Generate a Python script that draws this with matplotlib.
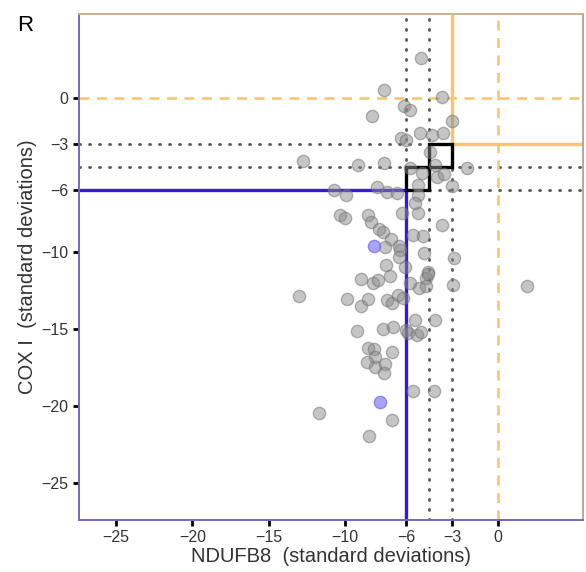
import numpy as np
import matplotlib
matplotlib.use("Agg")
import matplotlib.pyplot as plt
from matplotlib.patches import Rectangle

plt.rcParams['font.family'] = ['Liberation Sans', 'DejaVu Sans']

# z-scores (NDUFB8, COX I)
ndufb8 = [-7.44, -3.69, -6.15, -5.76, -8.22, -2.99, -5.10, -4.34, -3.58, -6.35,
          -6.04, -4.45, -12.78, -9.14, -7.44, -5.76, -4.12, -4.01, -3.51, -2.05,
          -4.99, -5.21, -2.99, -10.71, -9.97, -7.89, -7.28, -6.63, -5.26, -10.34,
          -10.01, -8.49, -6.26, -5.21, -5.43, -3.64, -8.33, -7.79, -7.50, -6.98,
          -7.40, -6.48, -6.41, -6.46, -5.54, -4.89, -4.82, -2.86, -7.33, -6.09,
          -4.56, -4.73, -7.07, -8.97, -8.20, -7.83, -5.76, -5.15, -4.73, -2.92,
          1.88, -13.02, -9.90, -8.99, -8.49, -7.24, -6.96, -6.52, -6.20, -5.43,
          -4.12, -9.25, -7.50, -6.85, -6.02, -5.87, -5.32, -5.04, -8.53, -8.09,
          -6.96, -8.05, -8.59, -8.05, -7.40, -7.44, -5.54, -4.19, -11.69, -6.96,
          -8.42, -5.05, -4.60]
cox1 = [0.52, 0.08, -0.52, -0.78, -1.15, -1.47, -2.25, -2.40, -2.29, -2.62,
        -2.73, -3.49, -4.07, -4.35, -4.20, -4.57, -4.35, -5.11, -4.94, -4.57,
        -4.89, -5.65, -5.71, -5.97, -6.30, -5.76, -6.08, -6.19, -6.30, -7.60,
        -7.81, -7.60, -7.49, -7.45, -6.84, -8.25, -8.03, -8.53, -8.72, -9.17,
        -9.70, -9.59, -9.87, -10.30, -8.90, -8.96, -10.04, -10.37, -10.84, -10.95,
        -11.27, -11.66, -11.56, -11.77, -11.99, -11.82, -12.03, -12.36, -12.21, -12.14,
        -12.21, -12.84, -13.05, -13.51, -13.07, -13.12, -13.29, -12.79, -13.01, -14.42,
        -14.42, -15.13, -15.00, -14.85, -15.06, -15.28, -15.39, -15.17, -16.25, -16.32,
        -16.47, -16.79, -17.12, -17.44, -17.29, -17.87, -19.03, -19.03, -20.47, -20.91,
        -21.95, 2.60, -11.45]

# two highlighted fibres
hl_ndufb8 = [-8.09, -7.72]
hl_cox1 = [-9.59, -19.72]

# thresholds
thr_lines = [-6, -4.5, -3]
xticks = [-25, -20, -15, -10, -6, -3, 0]
yticks = [0, -3, -6, -10, -15, -20, -25]

blue = "#3716dd"
orange = "#f7c46f"
dotc = "#555555"

fig = plt.figure(figsize=(5.86, 5.72), dpi=100)
ax = fig.add_axes([0.1348, 0.0909, 0.8602, 0.8846])
ax.set_xlim(-27.42, 5.56)
ax.set_ylim(-27.4, 5.45)

# dotted threshold grid
for t in thr_lines:
    ax.axvline(t, color=dotc, lw=2.0, ls=(0, (0.4, 3.2)), dash_capstyle="round", zorder=1)
    ax.axhline(t, color=dotc, lw=2.0, ls=(0, (0.4, 3.2)), dash_capstyle="round", zorder=1)

# zero lines
ax.axvline(0, color=orange, lw=1.8, ls=(0, (4, 3)), zorder=1.5)
ax.axhline(0, color=orange, lw=1.8, ls=(0, (4, 3)), zorder=1.5)

# normal / deficient regions
ax.add_patch(Rectangle((-3, -3), 20, 20, fill=False, ec=orange, lw=2.4, zorder=2))
ax.add_patch(Rectangle((-40, -40), 34, 34, fill=False, ec=blue, lw=2.4, zorder=2))

# intermediate boxes
ax.add_patch(Rectangle((-6, -6), 1.5, 1.5, fill=False, ec="black", lw=2.4, zorder=3))
ax.add_patch(Rectangle((-4.5, -4.5), 1.5, 1.5, fill=False, ec="black", lw=2.4, zorder=3))

ax.scatter(ndufb8, cox1, s=78, c="#8c8c8c", alpha=0.5, edgecolors="#707070",
           linewidths=1.0, zorder=4)
ax.scatter(hl_ndufb8, hl_cox1, s=78, c="#8c84f0", alpha=0.75, edgecolors="#7a72e0",
           linewidths=1.0, zorder=4)

ax.set_xticks(xticks)
ax.set_yticks(yticks)
ax.tick_params(direction="out", length=4, width=2, color="black",
               labelsize=11.5, labelcolor="#333333")
ax.set_xlabel("NDUFB8  (standard deviations)", fontsize=14.5, color="#333333", labelpad=1)
ax.set_ylabel("COX I  (standard deviations)", fontsize=14.5, color="#333333", labelpad=3)

ax.spines["left"].set_color("#7468c4")
ax.spines["bottom"].set_color("#7468c4")
ax.spines["top"].set_color("#c8b48e")
ax.spines["right"].set_color("#b0a898")
for s in ax.spines.values():
    s.set_linewidth(1.4)

fig.text(0.029, 0.945, "R", fontsize=16, color="black")

fig.savefig("out.png", dpi=100)
